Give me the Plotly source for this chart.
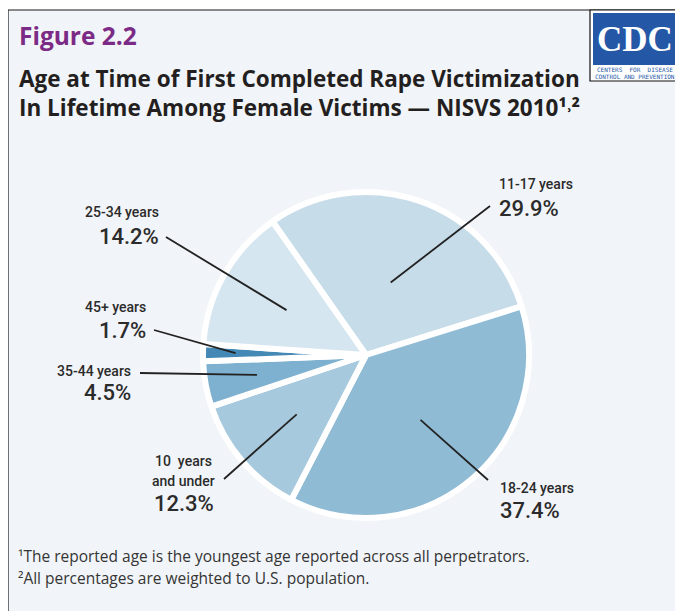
import math

import plotly.graph_objects as go

# the page body has an 8px margin, so the figure starts at page pixel (8, 8)
OX, OY = 8, 8
W, H = 675, 603

# data
age_groups = ["11-17 years", "18-24 years", "10 years and under", "35-44 years", "45+ years", "25-34 years"]
percents = [29.9, 37.4, 12.3, 4.5, 1.7, 14.2]
slice_colors = ["#c7dce9", "#8fbbd5", "#a7c9dd", "#7eb1cf", "#4489b5", "#d6e6f0"]
label_lines = [["11-17 years"], ["18-24 years"], ["10  years", "and under"], ["35-44 years"], ["45+ years"], ["25-34 years"]]

# pie geometry (page pixels)
CX, CY, R = 366, 355, 163
ROTATION = -35

# label placement: (text x, anchor, first line y, percent y, line start x, line start y, tip radius fraction)
label_layout = [
    (497, "left", 184, 208, 490, 206, 0.47),
    (498, "left", 488, 510, 488, 480, 0.52),
    (184, "center", 461, 503, 224, 479, 0.56),
    (133, "right", 371, 392, 140, 373, 0.68),
    (148, "right", 307, 330, 154, 330, 0.80),
    (161, "right", 212, 237, 166, 237, 0.56),
]

LABEL_FONT = "Roboto, DejaVu Sans Condensed, sans-serif"
TITLE_FONT = "Open Sans, Lato, sans-serif"
TEXT_COLOR = "#2b2b2b"


def to_paper(x, y):
    """page pixel -> paper coordinates"""
    return (x - OX) / W, 1 - (y - OY) / H


def text(txt, x, y, size, color=TEXT_COLOR, family=TITLE_FONT, anchor="left", weight="normal"):
    xp, yp = to_paper(x, y)
    return dict(text=txt, x=xp, y=yp, xref="paper", yref="paper", xanchor=anchor,
                yanchor="middle", showarrow=False, align=anchor,
                font={"family": family, "size": size, "color": color, "weight": weight})


def rect(x0, y0, x1, y1, **kw):
    px0, py0 = to_paper(x0, y0)
    px1, py1 = to_paper(x1, y1)
    return dict(type="rect", xref="paper", yref="paper", x0=px0, y0=py1, x1=px1, y1=py0, **kw)


dx0, dy0 = to_paper(CX - R, CY + R)
dx1, dy1 = to_paper(CX + R, CY - R)
fig = go.Figure(
    go.Pie(
        labels=age_groups,
        values=percents,
        sort=False,
        direction="clockwise",
        rotation=ROTATION,
        textinfo="none",
        hoverinfo="label+percent",
        marker={"colors": slice_colors, "line": {"color": "white", "width": 6}},
        showlegend=False,
        domain={"x": [dx0, dx1], "y": [dy0, dy1]},
    )
)

shapes = []
annotations = []

# panel background and border
shapes.append(rect(8, 10, 676, 650, fillcolor="#f1f4f8",
                   line={"color": "#1a1a1a", "width": 1.2}, layer="below"))

# leader lines and labels
total = sum(percents)
start = ROTATION
for pct, lines, (tx, anchor, ty, tpy, lx, ly, frac) in zip(percents, label_lines, label_layout):
    span = pct / total * 360
    mid = math.radians(start + span / 2)
    start += span
    tip_x = CX + frac * R * math.sin(mid)
    tip_y = CY - frac * R * math.cos(mid)
    x0, y0 = to_paper(lx, ly)
    x1, y1 = to_paper(tip_x, tip_y)
    shapes.append(dict(type="line", xref="paper", yref="paper", x0=x0, y0=y0, x1=x1, y1=y1,
                       line={"color": "#222222", "width": 1.8}))
    for i, line in enumerate(lines):
        annotations.append(text(line, tx, ty + i * 20, 14, family=LABEL_FONT, anchor=anchor, weight=500))
    annotations.append(text(f"{pct}%", tx, tpy, 22, family=LABEL_FONT, anchor=anchor, weight=500))

# titles
annotations.append(text("<b>Figure 2.2</b>", 17, 35, 24.5, color="#7b2a85"))
annotations.append(text("<b>Age at Time of First Completed Rape Victimization</b>", 17, 78, 22.5, color="#231f20"))
annotations.append(text("<b>In Lifetime Among Female Victims — NISVS 2010¹˒²</b>", 17, 107, 22.5, color="#231f20"))

# footnotes
annotations.append(text("¹The reported age is the youngest age reported across all perpetrators.", 16, 556, 15.5, color="#353535"))
annotations.append(text("²All percentages are weighted to U.S. population.", 16, 578, 15.5, color="#353535"))

# CDC logo
shapes.append(rect(590, 10, 679, 81, fillcolor="white", line={"color": "#111111", "width": 1.2}))
shapes.append(rect(593, 13, 676, 65, fillcolor="#2457a6", line={"width": 0}))
annotations.append(text("<b>CDC</b>", 635, 40, 35, color="white",
                        family="Liberation Serif, DejaVu Serif, serif", anchor="center"))
annotations.append(text("CENTERS  FOR  DISEASE", 635, 70, 6, color="#2457a6",
                        family="DejaVu Sans Mono, monospace", anchor="center"))
annotations.append(text("CONTROL AND PREVENTION", 635, 76, 6, color="#2457a6",
                        family="DejaVu Sans Mono, monospace", anchor="center"))

fig.update_layout(
    width=W,
    height=H,
    margin={"l": 0, "r": 0, "t": 0, "b": 0},
    paper_bgcolor="white",
    plot_bgcolor="white",
    shapes=shapes,
    annotations=annotations,
)

fig.write_html("out.html")
